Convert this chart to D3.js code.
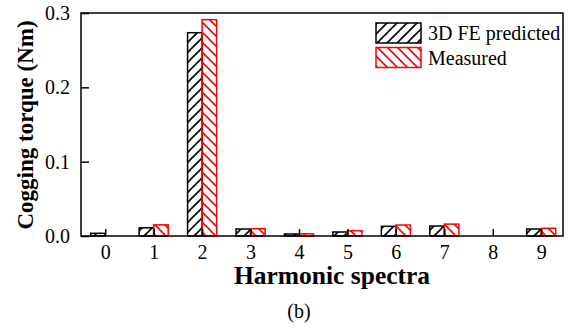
<!DOCTYPE html>
<html><head><meta charset="utf-8">
<script src="https://cdn.jsdelivr.net/npm/d3@7"></script>
<style>body{margin:0;background:#fff}svg{display:block}</style>
</head><body>
<svg id="c" width="570" height="327"></svg>
<script>
const harmonics = [0,1,2,3,4,5,6,7,8,9];
const predicted = [0.0036,0.011,0.2735,0.0094,0.0027,0.0054,0.013,0.0134,0,0.0094];
const measured  = [0,0.015,0.291,0.0098,0.003,0.0071,0.0148,0.016,0,0.0103];
const yTicks = [0,0.1,0.2,0.3];
const seriesNames = ["3D FE predicted","Measured"];

const svg = d3.select("#c");
const L=81, R=563, T=13, B=236;
const font = "'Liberation Serif','Times New Roman',serif";
const x = d3.scaleLinear().domain([-0.5,9.45]).range([L,R]);
const y = d3.scaleLinear().domain([0,0.3]).range([B,T]);
const bw = x(0.3)-x(0);

const defs = svg.append("defs");
function hatch(id,color,dir){
  const p = defs.append("pattern").attr("id",id).attr("patternUnits","userSpaceOnUse")
    .attr("width",10).attr("height",10);
  if(dir>0){
    p.append("path").attr("d","M-1,1 l2,-2 M0,10 l10,-10 M9,11 l2,-2");
  } else {
    p.append("path").attr("d","M-1,9 l2,2 M0,0 l10,10 M9,-1 l2,2");
  }
  p.select("path").attr("stroke",color).attr("stroke-width",1.6).attr("fill","none");
}
hatch("hb","#000",1);
hatch("hr","#ff0000",-1);

// bars
svg.append("g").selectAll("rect").data(harmonics.filter((h,i)=>predicted[i]>0)).join("rect")
  .attr("x",h=>x(h)-bw).attr("width",bw)
  .attr("y",h=>y(predicted[h])).attr("height",h=>B-y(predicted[h]))
  .attr("fill","url(#hb)").attr("stroke","#000").attr("stroke-width",1.5);
svg.append("g").selectAll("rect").data(harmonics.filter((h,i)=>measured[i]>0)).join("rect")
  .attr("x",h=>x(h)).attr("width",bw)
  .attr("y",h=>y(measured[h])).attr("height",h=>B-y(measured[h]))
  .attr("fill","url(#hr)").attr("stroke","#ff0000").attr("stroke-width",1.5);

// frame
svg.append("rect").attr("x",L).attr("y",T).attr("width",R-L).attr("height",B-T)
  .attr("fill","none").attr("stroke","#000").attr("stroke-width",1.5);

// axes
const xa = svg.append("g").attr("transform",`translate(0,${B})`)
  .call(d3.axisBottom(x).tickValues(harmonics).tickFormat(d3.format("d")).tickSizeInner(-7).tickSizeOuter(0).tickPadding(9));
const ya = svg.append("g").attr("transform",`translate(${L},0)`)
  .call(d3.axisLeft(y).tickValues(yTicks).tickFormat(d3.format(".1f")).tickSizeInner(-8).tickSizeOuter(0).tickPadding(11));
[xa,ya].forEach(a=>{
  a.select(".domain").remove();
  a.selectAll("line").attr("stroke","#000").attr("stroke-width",1.5);
  a.selectAll("text").attr("font-family",font).attr("font-size",20).attr("fill","#000");
});

// titles
svg.append("text").attr("x",332).attr("y",284).attr("text-anchor","middle")
  .attr("font-family",font).attr("font-weight","bold").attr("font-size",25.5).text("Harmonic spectra");
svg.append("text").attr("transform","translate(33,125) rotate(-90)").attr("text-anchor","middle")
  .attr("font-family",font).attr("font-weight","bold").attr("font-size",23).text("Cogging torque (Nm)");
svg.append("text").attr("x",299).attr("y",318).attr("text-anchor","middle")
  .attr("font-family",font).attr("font-size",20).text("(b)");

// legend
const lg = svg.append("g");
seriesNames.forEach((s,i)=>{
  const yy = 23 + i*24.5;
  lg.append("rect").attr("x",376).attr("y",yy).attr("width",45).attr("height",20)
    .attr("fill",i?"url(#hr)":"url(#hb)").attr("stroke",i?"#ff0000":"#000").attr("stroke-width",1.5);
  lg.append("text").attr("x",428).attr("y",yy+17).attr("font-family",font).attr("font-size",20).text(s);
});
</script>
</body></html>
